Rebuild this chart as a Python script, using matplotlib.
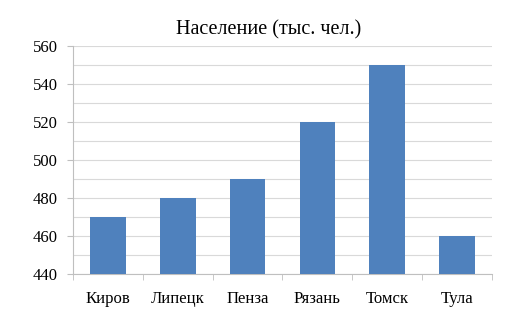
import matplotlib
matplotlib.use("Agg")
import matplotlib.pyplot as plt
import numpy as np

cities = ["Киров", "Липецк", "Пенза", "Рязань", "Томск", "Тула"]
population = [470, 480, 490, 520, 550, 460]
yticks = [440, 460, 480, 500, 520, 540, 560]

plt.rcParams['font.family'] = ['Liberation Serif', 'DejaVu Serif']

fig = plt.figure(figsize=(5.31, 3.17), dpi=100)
ax = fig.add_axes([0.1375, 0.1356, 0.789, 0.719])

x = np.arange(len(cities))
ax.bar(x, population, width=0.51, color="#4f81bd", zorder=3)
ax.set_ylim(440, 560)
ax.set_xlim(-0.5, len(cities) - 0.5)
ax.set_yticks(yticks)
ax.set_yticks(np.arange(440, 561, 10), minor=True)
ax.yaxis.grid(True, which='both', color="#d9d9d9", linewidth=0.8, zorder=0)
ax.set_xticks(x)
ax.set_xticklabels(cities, fontsize=12)
ax.set_xticks(np.arange(-0.5, len(cities)), minor=True)
ax.tick_params(axis='x', which='major', length=0, pad=12)
ax.tick_params(axis='x', which='minor', length=4, color="#bfbfbf")
ax.tick_params(axis='y', which='major', length=4, color="#bfbfbf", labelsize=12, pad=7)
ax.tick_params(axis='y', which='minor', length=0)
for s in ['top', 'right']:
    ax.spines[s].set_visible(False)
for s in ['left', 'bottom']:
    ax.spines[s].set_color("#bfbfbf")
    ax.spines[s].set_linewidth(0.8)
fig.text(0.505, 0.905, "Население (тыс. чел.)", fontsize=14.5, ha='center', va='center')

fig.savefig("out.png", dpi=100)
